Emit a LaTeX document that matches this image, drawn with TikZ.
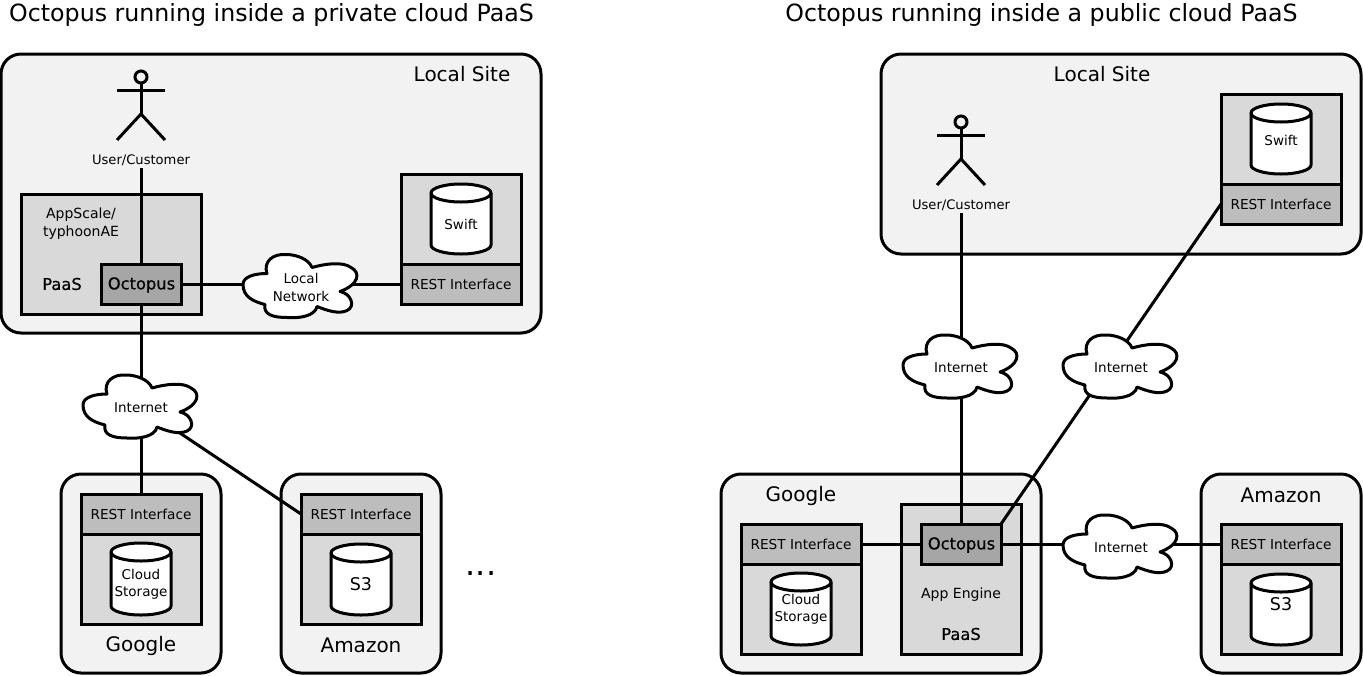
\documentclass[tikz,border=0pt]{standalone}
\usepackage{fontspec}
\setmainfont{DejaVu Sans}
\newfontfamily\semib[FakeBold=0.5]{DejaVu Sans}
\newcommand{\fsz}[1]{\fontsize{#1pt}{#1pt}\selectfont}
\tikzset{
  every node/.style={inner sep=0pt,outer sep=0pt,align=center,text=black},
  lw/.style={line width=3pt,draw=black},
  site/.style={lw,fill=black!5,rounded corners=20pt,rectangle},
  graybox/.style={lw,fill=black!15,rectangle},
  restbox/.style={lw,fill=black!26,rectangle,minimum width=120pt,minimum height=40pt,font=\fsz{13.7}},
  octobox/.style={lw,fill=black!35,rectangle,minimum width=80pt,minimum height=40pt,font=\semib\fsz{16.3}},
  octolabel/.style={font=\semib\fsz{16.3}},
  paaslabel/.style={font=\semib\fsz{16.3}},
  sitelabel/.style={font=\fsz{20}},
  title/.style={font=\fsz{23.7}},
  small/.style={font=\fsz{13.5}},
  conn/.style={line width=3pt,draw=black},
  actorline/.style={line width=3pt,draw=black}
}
\newcommand{\bx}[6]{\node[#1,minimum width=#4pt,minimum height=#5pt] (#6) at (#2,#3) {};}
\newcommand{\cyl}[6]{% name cx top bottom text-with-font text-y
  \draw[lw,fill=white,line join=round] (#2-30,#3+9) -- (#2-30,#4-9) arc[start angle=180,end angle=0,x radius=30,y radius=9] -- (#2+30,#3+9) arc[start angle=0,end angle=-180,x radius=30,y radius=9] -- cycle;
  \draw[lw] (#2-30,#3+9) arc[start angle=180,end angle=0,x radius=30,y radius=9];
  \node[small] (#1) at (#2,#6) {#5};
}
\newcommand{\cloudshape}[4]{%
  \begin{scope}[shift={(#2,#3)}]
  \draw[lw,fill=white,line join=round]
    (-58,-2) .. controls (-58,-10) and (-46,-13) .. (-34,-13)
    .. controls (-38,-25) and (-28,-33) .. (-15,-32)
    .. controls (-4,-32) and (8,-27) .. (11,-19)
    .. controls (25,-23) and (42,-25) .. (50,-19)
    .. controls (60,-14) and (58,-2) .. (39,5)
    .. controls (50,7) and (55,20) .. (46,24)
    .. controls (38,28) and (26,24) .. (16,20)
    .. controls (14,30) and (-3,32) .. (-14,31)
    .. controls (-28,31) and (-38,28) .. (-36,18)
    .. controls (-48,15) and (-58,10) .. (-58,-2) -- cycle;
  \end{scope}
  \node[small] (#1) at (#2,#3+1) {#4};
}
\newcommand{\actor}[3]{% name cx headcy
  \draw[actorline] (#2,#3) circle[radius=6];
  \draw[actorline] (#2,#3+7) -- (#2,#3+37);
  \draw[actorline] (#2-24,#3+13) -- (#2+24,#3+13);
  \draw[actorline] (#2-24,#3+63) -- (#2,#3+37) -- (#2+24,#3+63);
  \node[small,font=\fsz{13.1}] (#1) at (#2,#3+83) {User/Customer};
}
\begin{document}
\begin{tikzpicture}[x=1pt,y=-1pt]
\useasboundingbox (0,0) rectangle (1363,675);
% titles
\node[title] (t1) at (271.5,14.5) {Octopus running inside a private cloud PaaS};
\node[title] (t2) at (1041.5,14.5) {Octopus running inside a public cloud PaaS};
% ---------- left
\bx{site}{271}{193.5}{540}{279}{ls}
\node[sitelabel] (lsl) at (462,74) {Local Site};
\actor{user}{141}{77}
\bx{graybox}{111}{254}{180}{120}{paas}
\node[font=\fsz{14}] (as) at (81,224) {AppScale/\\[4pt]typhoonAE};
\node[paaslabel] (pl) at (62,284) {PaaS};
\bx{graybox}{461}{219}{120}{90}{swiftb}
\node[restbox] (rest1) at (461,284) {REST Interface};
\cyl{sw}{461}{184}{254}{Swift}{224}
\bx{site}{141}{573.5}{160}{199}{gs}
\bx{site}{361}{573.5}{160}{199}{as1}
\node[restbox] (rest2) at (141,514) {REST Interface};
\bx{graybox}{141}{579}{120}{90}{gb}
\cyl{cs}{141}{543}{615}{Cloud\\[3.3pt]Storage}{584}
\node[restbox] (rest3) at (361,514) {REST Interface};
\bx{graybox}{361}{579}{120}{90}{ab}
\cyl{s3}{361}{544}{615}{\fsz{17.5}S3}{584}
\node[sitelabel] (gl) at (141,646) {Google};
\node[sitelabel] (al) at (361,645) {Amazon};
\node[font=\fsz{32}] (dots) at (481,574) {...};
\node[octobox] (oct1) at (141,284) {};
\node[octolabel] (oct1t) at (141.5,285) {Octopus};
\draw[conn] (user.south) ++(0,3) -- (oct1.north);
\coordinate (cin1) at (141,407);
\draw[conn] (oct1.east) -- (rest1.west);
\draw[conn] (oct1.south) -- (cin1) -- (rest2.north);
\draw[conn] (cin1) -- (rest3.west);
\cloudshape{ln}{301}{286.5}{Local\\[3.6pt]Network}
\cloudshape{in1}{141}{407}{Internet}
% ---------- right
\bx{site}{1121}{154}{480}{200}{rs}
\node[sitelabel] (rsl) at (1102,74) {Local Site};
\actor{user2}{961}{122}
\bx{graybox}{1281}{139}{120}{90}{swiftb2}
\node[restbox] (rest4) at (1281,204) {REST Interface};
\cyl{sw2}{1281}{104}{174}{Swift}{140}
\bx{site}{881}{573.5}{320}{199}{gs2}
\bx{site}{1281}{573.5}{160}{199}{as2}
\node[sitelabel] (gl2) at (801,496) {Google};
\node[sitelabel] (al2) at (1281,495) {Amazon};
\node[restbox] (rest5) at (801,544) {REST Interface};
\bx{graybox}{801}{609}{120}{90}{gb2}
\cyl{cs2}{801}{573}{645}{Cloud\\[3.3pt]Storage}{609}
\bx{graybox}{961}{579}{120}{150}{paas2}
\node[font=\fsz{14}] (ae) at (961,595) {App Engine};
\node[paaslabel] (pl2) at (961,634) {PaaS};
\node[octobox] (oct2) at (961,544) {};
\node[octolabel] (oct2t) at (961.5,545) {Octopus};
\node[restbox] (rest6) at (1281,544) {REST Interface};
\bx{graybox}{1281}{609}{120}{90}{ab2}
\cyl{s32}{1281}{574}{645}{\fsz{17.5}S3}{604}
\draw[conn] (user2.south) ++(0,3) -- (oct2.north);
\draw[conn] (oct2.north east) -- (rest4.west);
\draw[conn] (rest5.east) -- (oct2.west);
\draw[conn] (oct2.east) -- (rest6.west);
\cloudshape{in2}{961}{367}{Internet}
\cloudshape{in3}{1121}{367}{Internet}
\cloudshape{in4}{1121}{547}{Internet}
\end{tikzpicture}
\end{document}
